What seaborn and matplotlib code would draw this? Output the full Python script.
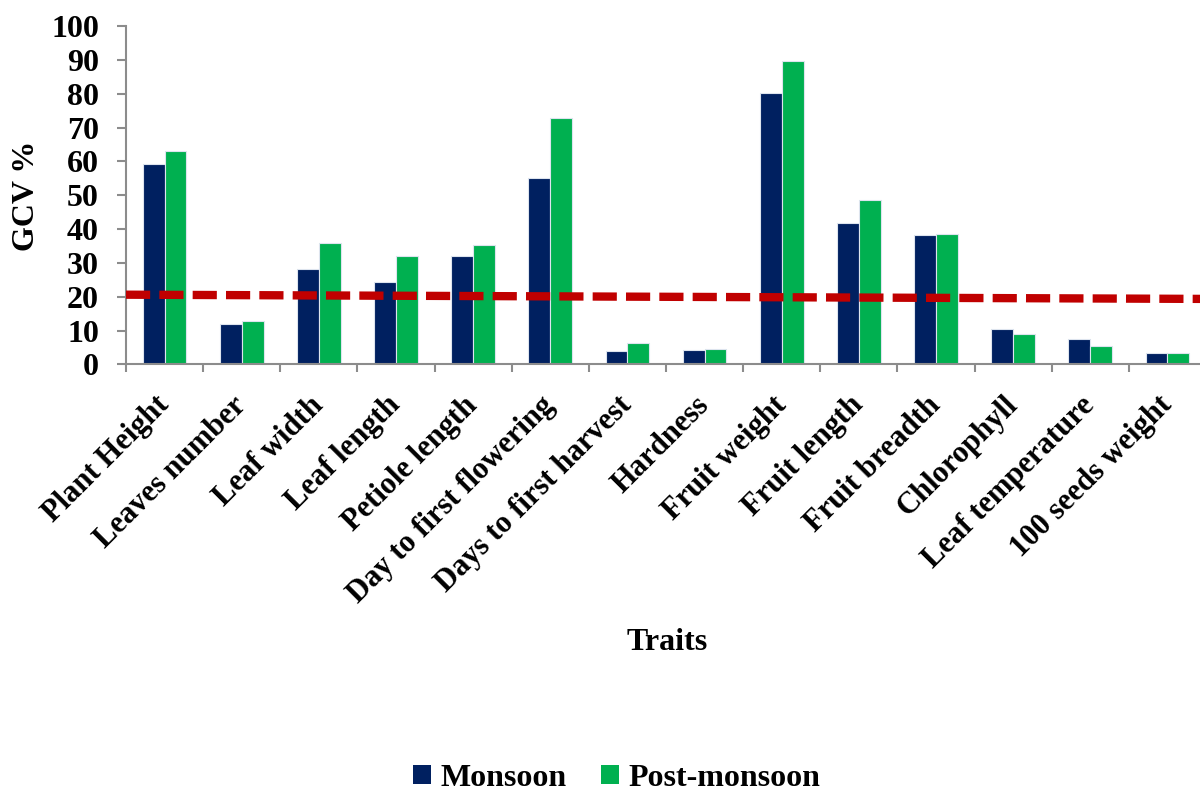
import matplotlib
matplotlib.use("Agg")
import matplotlib.pyplot as plt
from matplotlib.patches import Patch
from matplotlib.transforms import ScaledTranslation
import seaborn as sns
import pandas as pd

traits = ["Plant Height", "Leaves number", "Leaf width", "Leaf length",
          "Petiole length", "Day to first flowering", "Days to first harvest",
          "Hardness", "Fruit weight", "Fruit length", "Fruit breadth",
          "Chlorophyll", "Leaf temperature", "100 seeds weight"]
monsoon = [59.2, 11.8, 28.1, 24.4, 32.1, 55.0, 3.9, 4.3, 80.3, 41.7, 38.4, 10.4, 7.4, 3.5]
post_monsoon = [63.0, 12.7, 35.8, 32.1, 35.4, 73.0, 6.3, 4.5, 89.6, 48.7, 38.6, 9.0, 5.3, 3.5]
seasons = ["Monsoon", "Post-monsoon"]
season_colors = ["#002060", "#00B050"]
y_ticks = list(range(0, 101, 10))

# reference line across the whole axis (start / end values)
ref_x = [-0.5, 13.5]
ref_y = [20.6, 19.35]

sns.set_theme(style="white")
plt.rcParams["font.family"] = ["Liberation Serif", "DejaVu Serif"]
plt.rcParams["font.weight"] = "bold"
plt.rcParams["text.color"] = "black"
plt.rcParams["xtick.color"] = "black"
plt.rcParams["ytick.color"] = "black"

df = pd.DataFrame({
    "Trait": traits * 2,
    "Season": [seasons[0]] * len(traits) + [seasons[1]] * len(traits),
    "GCV": monsoon + post_monsoon,
})

fig = plt.figure(figsize=(12, 7.91), dpi=100)
ax = fig.add_axes([0.105, 0.5394, 0.90, 0.4274])

sns.barplot(data=df, x="Trait", y="GCV", hue="Season", order=traits,
            hue_order=seasons, palette=dict(zip(seasons, season_colors)),
            saturation=1, width=0.565, gap=0, edgecolor="#dde4ee",
            linewidth=0.8, errorbar=None, legend=False, ax=ax, zorder=2)

ax.plot(ref_x, ref_y, color="#C00000", linewidth=6.0,
        linestyle=(0, (2.9, 1.1)), solid_capstyle="butt",
        dash_capstyle="butt", zorder=3, clip_on=False)

ax.set_xlim(-0.5, len(traits) - 0.5)
ax.set_ylim(0, 100)
ax.set_yticks(y_ticks)

for side in ("top", "right"):
    ax.spines[side].set_visible(False)
for side in ("left", "bottom"):
    ax.spines[side].set_color("#8c8c8c")
    ax.spines[side].set_linewidth(1.5)

ax.tick_params(axis="y", which="major", direction="out", length=6.5, width=1.5,
               color="#8c8c8c", labelcolor="black", pad=13, labelsize=23,
               left=True)
ax.set_xticks(range(len(traits)))
ax.set_xticks([i - 0.5 for i in range(len(traits) + 1)], minor=True)
ax.tick_params(axis="x", which="major", length=0, pad=19, labelsize=22,
               labelcolor="black")
ax.tick_params(axis="x", which="minor", direction="out", length=6, width=1.5,
               color="#8c8c8c", bottom=True)
ax.set_xticklabels(traits, rotation=45, ha="right", va="top",
                   rotation_mode="anchor", fontweight="bold")
shift = ScaledTranslation(-10 / 100, 0, fig.dpi_scale_trans)
for lbl in ax.get_xticklabels():
    lbl.set_transform(lbl.get_transform() + shift)
for lbl in ax.get_yticklabels():
    lbl.set_fontweight("bold")

ax.set_xlabel("")
ax.set_ylabel("")
fig.text(0.0225, 0.752, "GCV %", rotation=90, ha="center", va="center",
         fontsize=23, fontweight="bold", color="black")
fig.text(0.556, 0.188, "Traits", ha="center", va="center",
         fontsize=23, fontweight="bold", color="black")

handles = [Patch(facecolor=c, edgecolor="none") for c in season_colors]
fig.legend(handles, seasons, loc="center", bbox_to_anchor=(0.514, 0.0164),
           ncol=2, frameon=False, handlelength=0.55, handleheight=0.55,
           handletextpad=0.3, columnspacing=1.1,
           prop={"weight": "bold", "size": 23})

fig.savefig("out.png", dpi=100)
